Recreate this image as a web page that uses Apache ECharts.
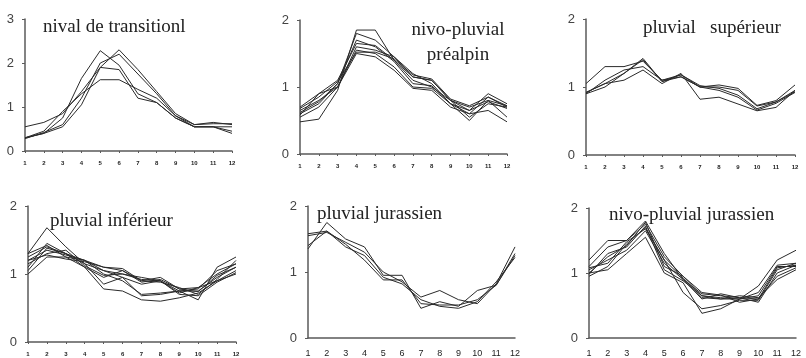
<!DOCTYPE html>
<html>
<head>
<meta charset="utf-8">
<script src="https://cdn.jsdelivr.net/npm/echarts@6/dist/echarts.min.js"></script>
<style>
  html, body { margin: 0; padding: 0; background: #fff; }
  #main { width: 806px; height: 358px; }
</style>
</head>
<body>
<div id="main"></div>
<script>
var months = ['1', '2', '3', '4', '5', '6', '7', '8', '9', '10', '11', '12'];

var nivalTransition = [
    [0.30, 0.40, 0.75, 1.65, 2.28, 1.95, 1.30, 1.10, 0.75, 0.55, 0.55, 0.40],
    [0.30, 0.40, 0.55, 1.05, 1.90, 2.30, 1.85, 1.35, 0.85, 0.60, 0.62, 0.62],
    [0.28, 0.42, 0.60, 1.20, 2.00, 2.20, 1.75, 1.30, 0.80, 0.60, 0.65, 0.60],
    [0.55, 0.65, 0.85, 1.35, 1.90, 1.85, 1.20, 1.10, 0.75, 0.55, 0.55, 0.45],
    [0.30, 0.45, 0.90, 1.30, 1.62, 1.62, 1.40, 1.20, 0.80, 0.55, 0.55, 0.55]
];
var nivoPluvialPrealpin = [
    [0.48, 0.52, 0.95, 1.85, 1.85, 1.40, 1.15, 1.10, 0.80, 0.65, 0.90, 0.75],
    [0.60, 0.75, 1.05, 1.80, 1.70, 1.45, 1.20, 1.05, 0.75, 0.60, 0.85, 0.70],
    [0.70, 0.90, 1.10, 1.65, 1.62, 1.40, 1.10, 1.00, 0.80, 0.70, 0.80, 0.72],
    [0.65, 0.80, 1.00, 1.60, 1.55, 1.45, 1.15, 1.10, 0.80, 0.55, 0.75, 0.70],
    [0.55, 0.70, 1.00, 1.55, 1.50, 1.30, 1.00, 0.98, 0.75, 0.50, 0.80, 0.55],
    [0.58, 0.90, 1.00, 1.50, 1.45, 1.25, 0.98, 0.95, 0.70, 0.60, 0.65, 0.48],
    [0.62, 0.78, 1.05, 1.70, 1.60, 1.38, 1.05, 1.02, 0.75, 0.65, 0.78, 0.68],
    [0.68, 0.85, 1.08, 1.52, 1.52, 1.42, 1.18, 1.12, 0.82, 0.72, 0.85, 0.72]
];
var pluvialSuperieur = [
    [1.05, 1.30, 1.30, 1.38, 1.10, 1.15, 1.00, 1.00, 0.95, 0.72, 0.78, 0.95],
    [0.92, 1.05, 1.10, 1.25, 1.05, 1.20, 0.82, 0.85, 0.75, 0.65, 0.70, 0.95],
    [0.90, 1.00, 1.20, 1.42, 1.08, 1.15, 1.00, 1.03, 0.98, 0.73, 0.80, 1.03],
    [0.90, 1.10, 1.25, 1.30, 1.10, 1.18, 1.02, 0.98, 0.88, 0.68, 0.78, 0.93],
    [0.92, 1.05, 1.20, 1.40, 1.08, 1.18, 1.00, 0.95, 0.85, 0.66, 0.76, 0.92]
];
var pluvialInferieur = [
    [1.30, 1.68, 1.40, 1.15, 0.85, 0.95, 0.68, 0.70, 0.75, 0.62, 1.10, 1.25],
    [1.10, 1.45, 1.30, 1.20, 1.10, 1.08, 0.90, 0.95, 0.78, 0.80, 1.00, 1.15],
    [1.00, 1.25, 1.25, 1.10, 0.78, 0.75, 0.62, 0.60, 0.65, 0.72, 0.90, 1.05],
    [1.25, 1.40, 1.30, 1.15, 1.05, 1.00, 0.95, 0.90, 0.75, 0.75, 0.95, 1.10],
    [1.20, 1.35, 1.28, 1.20, 1.05, 0.95, 0.85, 0.90, 0.72, 0.80, 0.90, 1.00],
    [1.05, 1.38, 1.30, 1.10, 0.95, 1.05, 0.90, 0.88, 0.80, 0.70, 0.92, 1.20],
    [1.30, 1.42, 1.25, 1.20, 1.00, 0.90, 0.70, 0.72, 0.75, 0.78, 1.05, 1.15],
    [1.15, 1.30, 1.35, 1.12, 0.98, 1.00, 0.92, 0.90, 0.70, 0.68, 0.88, 1.02],
    [1.20, 1.28, 1.22, 1.18, 1.10, 1.05, 0.88, 0.92, 0.78, 0.74, 0.98, 1.10]
];
var pluvialJurassien = [
    [1.55, 1.60, 1.45, 1.30, 1.00, 0.85, 0.62, 0.72, 0.58, 0.52, 0.82, 1.38],
    [1.35, 1.75, 1.50, 1.38, 0.95, 0.95, 0.45, 0.55, 0.48, 0.72, 0.80, 1.25],
    [1.40, 1.62, 1.38, 1.25, 0.92, 0.82, 0.58, 0.48, 0.45, 0.55, 0.85, 1.22],
    [1.58, 1.62, 1.42, 1.18, 0.88, 0.88, 0.52, 0.50, 0.50, 0.58, 0.80, 1.28]
];
var nivoPluvialJurassien = [
    [1.20, 1.50, 1.50, 1.75, 1.25, 0.95, 0.65, 0.60, 0.60, 0.80, 1.20, 1.35],
    [1.00, 1.05, 1.30, 1.55, 1.00, 0.85, 0.38, 0.45, 0.60, 0.65, 1.10, 1.10],
    [0.95, 1.10, 1.45, 1.70, 1.20, 0.70, 0.45, 0.50, 0.58, 0.58, 1.05, 1.15],
    [1.10, 1.40, 1.50, 1.80, 1.30, 0.90, 0.68, 0.65, 0.62, 0.55, 1.00, 1.12],
    [1.05, 1.20, 1.35, 1.65, 1.15, 0.90, 0.60, 0.68, 0.62, 0.60, 0.95, 1.08],
    [0.98, 1.30, 1.40, 1.72, 1.05, 0.88, 0.65, 0.62, 0.60, 0.70, 1.12, 1.15],
    [1.08, 1.15, 1.48, 1.68, 1.20, 0.92, 0.62, 0.60, 0.65, 0.62, 0.90, 1.05],
    [1.00, 1.25, 1.42, 1.78, 1.10, 0.95, 0.70, 0.66, 0.55, 0.60, 1.08, 1.12]
];

var panels = [nivalTransition, nivoPluvialPrealpin, pluvialSuperieur,
              pluvialInferieur, pluvialJurassien, nivoPluvialJurassien];
var yMax = [3, 2, 2, 2, 2, 2];

// grid boxes in px
var grids = [
    { left: 25, top: 19, width: 207, height: 132 },
    { left: 300, top: 20, width: 207, height: 134 },
    { left: 586, top: 19, width: 209, height: 136 },
    { left: 28, top: 206, width: 208, height: 136 },
    { left: 308, top: 206, width: 207, height: 132 },
    { left: 589, top: 208, width: 207, height: 133 }
];

var axisColor = '#5a5a5a';
var xAxes = [], yAxes = [], series = [];
grids.forEach(function (g, i) {
    var bigLabels = i >= 4;
    xAxes.push({
        gridIndex: i,
        type: 'category',
        data: months,
        boundaryGap: false,
        axisLine: { lineStyle: { color: axisColor, width: 1.5 } },
        axisTick: { show: !bigLabels, length: 2, lineStyle: { color: axisColor } },
        axisLabel: {
            interval: 0,
            margin: bigLabels ? 11 : 9,
            color: '#222',
            fontFamily: 'Liberation Sans',
            fontSize: bigLabels ? 9 : 6,
            fontWeight: bigLabels ? 'normal' : 'bold'
        },
        splitLine: { show: false }
    });
    yAxes.push({
        gridIndex: i,
        type: 'value',
        min: 0,
        max: yMax[i],
        interval: 1,
        axisLine: { show: true, lineStyle: { color: axisColor, width: 1.5 } },
        axisTick: { show: true, length: 3, lineStyle: { color: axisColor } },
        axisLabel: { color: '#444', fontFamily: 'Liberation Sans', fontSize: 13, margin: 11 },
        splitLine: { show: false }
    });
    panels[i].forEach(function (vals) {
        series.push({
            type: 'line',
            xAxisIndex: i,
            yAxisIndex: i,
            data: vals,
            showSymbol: false,
            silent: true,
            lineStyle: { color: '#2a2a2a', width: 1 }
        });
    });
});

function label(text, x, y, align) {
    return {
        type: 'text',
        x: x,
        y: y,
        style: {
            text: text,
            fontFamily: 'Liberation Serif',
            fontSize: 19,
            fill: '#222',
            textAlign: align || 'left',
            textVerticalAlign: 'middle'
        }
    };
}

var chart = echarts.init(document.getElementById('main'), null, { renderer: 'canvas' });
chart.setOption({
    animation: false,
    backgroundColor: '#fff',
    grid: grids,
    xAxis: xAxes,
    yAxis: yAxes,
    series: series,
    graphic: [
        label('nival de transitionl', 43, 27),
        label('nivo-pluvial', 458, 30, 'center'),
        label('préalpin', 458, 55, 'center'),
        label('pluvial   supérieur', 643, 28),
        label('pluvial inférieur', 50, 221),
        label('pluvial jurassien', 317, 214),
        label('nivo-pluvial jurassien', 609, 215)
    ]
});
</script>
</body>
</html>
